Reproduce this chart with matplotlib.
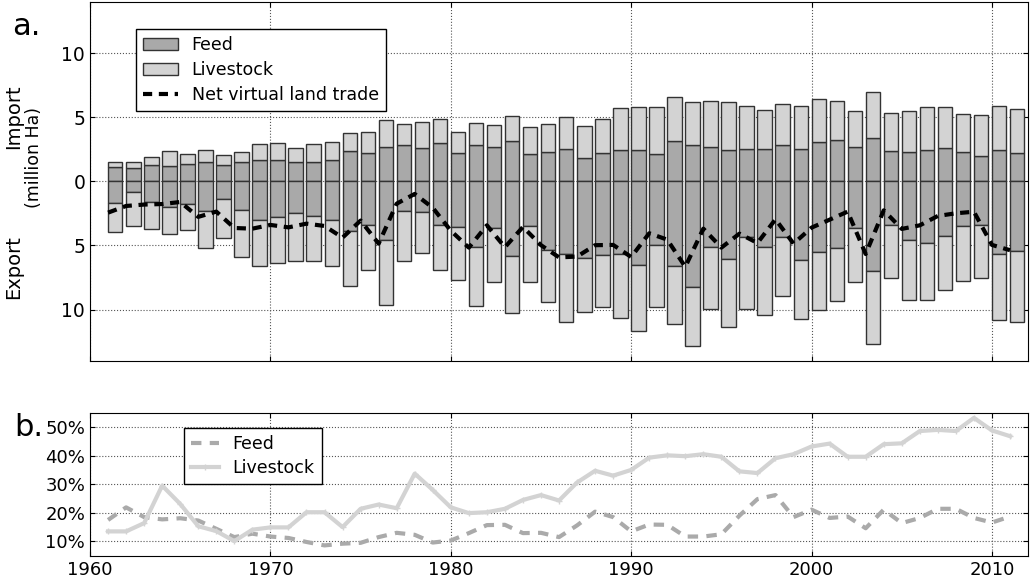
import numpy as np
import matplotlib
matplotlib.use('Agg')
import matplotlib.pyplot as plt
from matplotlib.ticker import FuncFormatter

years = list(range(1961, 2012))

# virtual land trade, million Ha
feed_import = [1.12, 1.04, 1.27, 1.19, 1.35, 1.53, 1.30, 1.48, 1.66, 1.64, 1.53, 1.53, 1.66, 2.34, 2.21, 2.68, 2.83,
               2.62, 3.01, 2.21, 2.83, 2.70, 3.14, 2.16, 2.29, 2.55, 1.82, 2.23, 2.44, 2.44, 2.16, 3.12, 2.83, 2.70,
               2.44, 2.49, 2.55, 2.83, 2.55, 3.04, 3.22, 2.68, 3.35, 2.36, 2.29, 2.44, 2.62, 2.29, 1.95, 2.44, 2.23]
livestock_import = [0.41, 0.49, 0.63, 1.17, 0.81, 0.89, 0.73, 0.78, 1.22, 1.32, 1.09, 1.38, 1.43, 1.43, 1.61, 2.10, 1.61,
                    1.98, 1.87, 1.63, 1.69, 1.69, 1.98, 2.10, 2.18, 2.51, 2.49, 2.63, 3.25, 3.35, 3.63, 3.50, 3.38, 3.56,
                    3.74, 3.38, 3.03, 3.17, 3.32, 3.35, 3.09, 2.83, 3.66, 2.94, 3.22, 3.35, 3.17, 2.96, 3.24, 3.43, 3.41]
feed_export = [1.69, 0.83, 1.58, 1.97, 1.74, 2.29, 1.40, 2.23, 3.04, 2.78, 2.47, 2.70, 2.99, 3.84, 3.40, 4.57, 2.31,
               2.39, 3.38, 3.58, 5.14, 3.64, 5.79, 3.45, 5.38, 5.69, 5.97, 5.77, 5.64, 6.55, 4.94, 6.62, 8.23, 5.14,
               6.08, 4.31, 5.14, 4.31, 6.16, 5.53, 5.19, 3.64, 7.01, 3.38, 4.60, 4.81, 4.23, 3.48, 3.38, 5.64, 5.40]
livestock_export = [2.28, 2.62, 2.13, 2.16, 2.03, 2.90, 2.99, 3.67, 3.53, 3.58, 3.74, 3.51, 3.58, 4.32, 3.48, 5.07, 3.87,
                    3.19, 3.56, 4.11, 4.55, 4.18, 4.47, 4.37, 4.07, 5.30, 4.21, 4.07, 5.01, 5.14, 4.90, 4.55, 4.65, 4.81,
                    5.27, 5.64, 5.25, 4.65, 4.57, 4.47, 4.11, 4.23, 5.67, 4.18, 4.62, 4.41, 4.26, 4.26, 4.18, 5.19, 5.61]

# shares, percent
feed_share = [17.5, 21.9, 18.5, 17.7, 18.1, 17.3, 14.4, 11.5, 12.7, 11.7, 11.2, 9.8, 8.6, 9.2, 9.5, 11.5, 13.0,
              12.3, 9.6, 10.3, 12.9, 15.7, 15.8, 12.9, 13.0, 11.5, 15.6, 20.4, 18.5, 13.5, 15.9, 15.8, 11.7, 11.7,
              12.5, 19.0, 24.8, 26.2, 18.5, 21.1, 18.2, 18.7, 14.6, 21.1, 16.4, 18.2, 21.4, 21.4, 18.2, 16.6, 18.7]
livestock_share = [13.5, 13.5, 16.4, 29.5, 23.1, 15.3, 13.6, 10.1, 14.1, 14.9, 14.9, 20.2, 20.2, 15.0, 21.4, 22.9, 21.6,
                   33.7, 28.0, 21.9, 19.9, 20.2, 21.4, 24.5, 26.2, 24.3, 30.6, 34.7, 33.0, 35.0, 39.3, 40.1, 39.8, 40.5,
                   39.6, 34.5, 33.9, 39.1, 40.5, 43.2, 44.2, 39.6, 39.6, 44.0, 44.3, 48.6, 49.0, 48.6, 53.2, 48.8, 46.8]

plt.rcParams['font.family'] = ['DejaVu Sans']
plt.rcParams['xtick.direction'] = 'in'
plt.rcParams['ytick.direction'] = 'in'
plt.rcParams['xtick.top'] = True
plt.rcParams['ytick.right'] = True

FEED_C = '#a9a9a9'
LIVE_C = '#d3d3d3'
EDGE_C = '#333333'

yrs = np.array(years)
fi = np.array(feed_import)
li = np.array(livestock_import)
fe = np.array(feed_export)
le = np.array(livestock_export)
net = (fi + li) - (fe + le)

fig = plt.figure(figsize=(10.3, 5.8), dpi=100)
ax1 = fig.add_axes([0.0874, 0.378, 0.9107, 0.6186])
ax2 = fig.add_axes([0.0874, 0.0419, 0.9107, 0.2465])

# a. stacked import (up) / export (down) bars
bw = 0.8
b_feed = ax1.bar(yrs, fi, bw, align='edge', color=FEED_C, edgecolor=EDGE_C, linewidth=1, zorder=2)
b_live = ax1.bar(yrs, li, bw, bottom=fi, align='edge', color=LIVE_C, edgecolor=EDGE_C, linewidth=1, zorder=2)
ax1.bar(yrs, -fe, bw, align='edge', color=FEED_C, edgecolor=EDGE_C, linewidth=1, zorder=2)
ax1.bar(yrs, -le, bw, bottom=-fe, align='edge', color=LIVE_C, edgecolor=EDGE_C, linewidth=1, zorder=2)
l_net, = ax1.plot(yrs, net, color='black', linewidth=3, dashes=(2.2, 1.6), zorder=3)

ax1.set_xlim(1960, 2012)
ax1.set_ylim(-14, 14)
ax1.set_yticks([-10, -5, 0, 5, 10])
ax1.yaxis.set_major_formatter(FuncFormatter(lambda v, p: '%d' % abs(v)))
ax1.set_xticks(range(1960, 2011, 10))
ax1.set_xticklabels([])
ax1.tick_params(labelsize=13.5)
ax1.grid(True, color='#555555', linestyle=':', linewidth=0.8, zorder=0)
ax1.set_axisbelow(True)
leg1 = ax1.legend([b_feed, b_live, l_net], ['Feed', 'Livestock', 'Net virtual land trade'],
                  loc='upper left', bbox_to_anchor=(0.132, 0.950), bbox_transform=fig.transFigure,
                  borderaxespad=0, fancybox=False, edgecolor='black', framealpha=1, fontsize=12.5,
                  labelspacing=0.4)
leg1.get_frame().set_linewidth(1)

fig.text(0.013, 0.798, 'Import', rotation=90, ha='center', va='center', fontsize=14)
fig.text(0.033, 0.729, '(million Ha)', rotation=90, ha='center', va='center', fontsize=12.5)
fig.text(0.013, 0.54, 'Export', rotation=90, ha='center', va='center', fontsize=14)
fig.text(0.012, 0.94, 'a.', fontsize=22, va='baseline')

# b. shares
ax2.plot(yrs, np.array(feed_share) / 100, color='#aaaaaa', linewidth=3, dashes=(2.5, 2), label='Feed')
ax2.plot(yrs, np.array(livestock_share) / 100, color=LIVE_C, linewidth=3, marker='+', markersize=4,
         markeredgewidth=1, label='Livestock')
ax2.set_xlim(1960, 2012)
ax2.set_ylim(0.05, 0.55)
ax2.set_yticks([0.1, 0.2, 0.3, 0.4, 0.5])
ax2.yaxis.set_major_formatter(FuncFormatter(lambda v, p: '%d%%' % round(v * 100)))
ax2.set_xticks(range(1960, 2011, 10))
ax2.tick_params(labelsize=13)
ax2.grid(True, color='#555555', linestyle=':', linewidth=0.8)
leg2 = ax2.legend(loc='upper left', bbox_to_anchor=(0.1786, 0.262), bbox_transform=fig.transFigure,
                  borderaxespad=0, fancybox=False, edgecolor='black', framealpha=1, fontsize=12.5,
                  handlelength=1.6, labelspacing=0.35)
leg2.get_frame().set_linewidth(1)
fig.text(0.014, 0.248, 'b.', fontsize=22, va='baseline')

fig.savefig('out.png', dpi=100)
